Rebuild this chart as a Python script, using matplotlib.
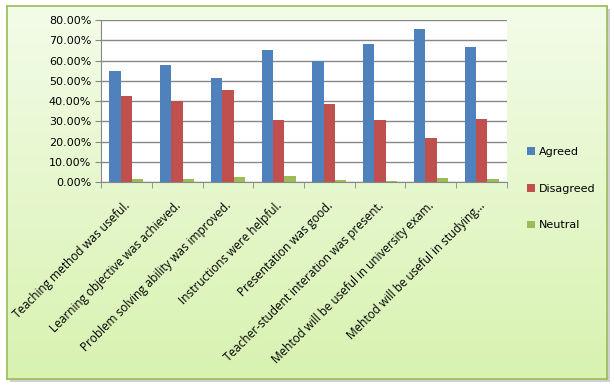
import numpy as np
import matplotlib.pyplot as plt
from matplotlib.transforms import ScaledTranslation
from matplotlib.ticker import FuncFormatter, FixedLocator

categories = [
    "Teaching method was useful.",
    "Learning objective was achieved.",
    "Problem solving ability was improved.",
    "Instructions were helpful.",
    "Presentation was good.",
    "Teacher-student interation was present.",
    "Mehtod will be useful in university exam.",
    "Mehtod will be useful in studying...",
]
agreed = [54.7, 57.8, 51.4, 65.2, 59.8, 68.1, 75.5, 66.6]
disagreed = [42.5, 40.2, 45.5, 30.7, 38.5, 30.7, 21.8, 31.2]
neutral = [1.6, 1.6, 2.6, 3.1, 1.1, 0.6, 2.1, 1.6]

W, H = 614, 388
fig = plt.figure(figsize=(W / 100, H / 100), dpi=100)
fig.patch.set_facecolor("white")

# gradient background panel with shadow
bx0, by0, bx1, by1 = 7, 6, 607, 379
shadow = fig.add_axes([(bx0 + 3) / W, 1 - (by1 + 3) / H, (bx1 - bx0) / W, (by1 - by0) / H])
shadow.set_facecolor("#d0d0d0")
shadow.set_xticks([]); shadow.set_yticks([])
for s in shadow.spines.values():
    s.set_visible(False)
bg = fig.add_axes([bx0 / W, 1 - by1 / H, (bx1 - bx0) / W, (by1 - by0) / H])
top_c = np.array([0xF3, 0xFC, 0xE8]) / 255
bot_c = np.array([0xD8, 0xF2, 0xB0]) / 255
t = np.linspace(0, 1, 256)[:, None]
grad = top_c * (1 - t[..., None]) + bot_c * t[..., None]
grad = np.repeat(grad, 2, axis=1)
bg.imshow(grad, aspect="auto", extent=[0, 1, 0, 1])
bg.set_xticks([]); bg.set_yticks([])
for s in bg.spines.values():
    s.set_color("#9bbb59")
    s.set_linewidth(1.2)

# plot area
px0, py0, px1, py1 = 101, 20, 507, 182.3
ax = fig.add_axes([px0 / W, 1 - py1 / H, (px1 - px0) / W, (py1 - py0) / H])
ax.set_facecolor("white")

x = np.arange(len(categories))
bw = 0.223
ax.bar(x - bw, agreed, bw, color="#4F81BD", label="Agreed", zorder=3)
ax.bar(x, disagreed, bw, color="#C0504D", label="Disagreed", zorder=3)
ax.bar(x + bw, neutral, bw, color="#9BBB59", label="Neutral", zorder=3)

ax.set_xlim(-0.5, len(categories) - 0.5)
ax.set_ylim(0, 80)
ax.set_yticks(np.arange(0, 81, 10))
ax.yaxis.set_major_formatter(FuncFormatter(lambda v, p: f"{v:.2f}%"))
ax.grid(axis="y", color="#878787", linewidth=1, zorder=0)
ax.tick_params(axis="y", length=4, color="#878787", labelsize=8, pad=3)

ax.set_xticks(x)
ax.set_xticklabels(categories, rotation=45, ha="right", rotation_mode="anchor",
                   fontsize=8.5, family="Open Sans")
ax.tick_params(axis="x", length=0, pad=12)
shift = ScaledTranslation(-3 / 100, 0, fig.dpi_scale_trans)
for lbl in ax.get_xticklabels():
    lbl.set_transform(lbl.get_transform() + shift)
ax.xaxis.set_minor_locator(FixedLocator(np.arange(-0.5, len(categories), 1)))
ax.tick_params(axis="x", which="minor", length=4, color="#878787")

for side in ["top", "right"]:
    ax.spines[side].set_visible(False)
ax.spines["left"].set_color("#878787")
ax.spines["bottom"].set_color("#878787")

fig.legend(loc="upper left", bbox_to_anchor=(517 / W, 1 - 137 / H), frameon=False,
           fontsize=8, labelspacing=2.4, handlelength=0.7, handleheight=0.7,
           handletextpad=0.4)

plt.savefig("out.png", dpi=100)
